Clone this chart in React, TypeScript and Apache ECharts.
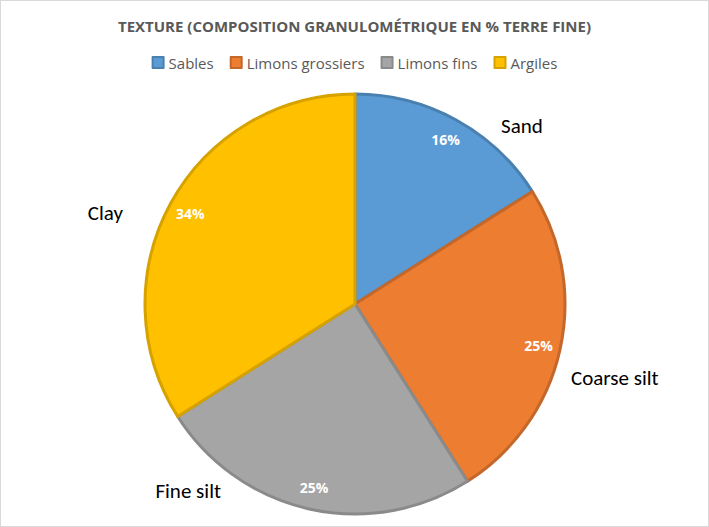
import { useEffect, useRef } from 'react'
import * as echarts from 'echarts'

const legendNames = ['Sables', 'Limons grossiers', 'Limons fins', 'Argiles']
const sliceNames = ['Sand', 'Coarse silt', 'Fine silt', 'Clay']
const values = [16, 25, 25, 34]
const fills = ['#5B9BD5', '#ED7D31', '#A5A5A5', '#FFC000']
const borders = ['#4A80B0', '#C4672A', '#8A8A8A', '#D6A200']
// callout anchors (left/right edge, vertical middle) as placed in the reference
const calloutPos = [[500, 125, 'left'], [570, 377, 'left'], [220, 490, 'right'], [122, 212, 'right']]

export default function App() {
  const chartRef = useRef<HTMLDivElement>(null)

  useEffect(() => {
    document.body.style.margin = '0'
    if (!chartRef.current) return
    const chart = echarts.init(chartRef.current, null, { renderer: 'svg' })
    const cx = 354
    const cy = 303
    const outerLabels = sliceNames.map((name, i) => ({
      type: 'text',
      x: calloutPos[i][0],
      y: calloutPos[i][1],
      style: {
        text: name,
        font: '21px Calibri, "Open Sans", sans-serif',
        fill: '#000',
        align: calloutPos[i][2],
        verticalAlign: 'middle'
      }
    }))

    chart.setOption({
      animation: false,
      title: {
        text: 'TEXTURE (COMPOSITION GRANULOMÉTRIQUE EN % TERRE FINE)',
        left: 'center',
        top: 12,
        textStyle: { fontSize: 15, fontWeight: 'bold', color: '#595959', fontFamily: '"Open Sans", sans-serif' }
      },
      legend: {
        top: 49,
        left: 'center',
        itemWidth: 11,
        itemHeight: 11,
        icon: 'rect',
        itemGap: 16,
        textStyle: { fontSize: 15, color: '#595959', fontFamily: '"Open Sans", sans-serif' },
        data: legendNames
      },
      graphic: outerLabels,
      series: [
        {
          type: 'pie',
          center: [cx, cy],
          radius: [0, 210],
          startAngle: 90,
          clockwise: true,
          label: { show: false },
          labelLine: { show: false },
          data: values.map((v, i) => ({
            name: legendNames[i],
            value: v,
            itemStyle: { color: fills[i], borderColor: borders[i], borderWidth: 3 }
          }))
        },
        {
          type: 'pie',
          center: [cx, cy],
          radius: [0, 370],
          startAngle: 90,
          silent: true,
          itemStyle: { color: 'transparent' },
          label: {
            show: true,
            position: 'inside',
            formatter: '{c}%',
            color: '#fff',
            fontWeight: 'bold',
            fontSize: 14,
            fontFamily: '"Open Sans", sans-serif'
          },
          labelLine: { show: false },
          data: values.map((v, i) => ({ name: sliceNames[i], value: v }))
        }
      ]
    })
    return () => chart.dispose()
  }, [])

  return (
    <div
      ref={chartRef}
      style={{ width: 707, height: 525, border: '1px solid #d9d9d9', background: '#fff' }}
    />
  )
}
